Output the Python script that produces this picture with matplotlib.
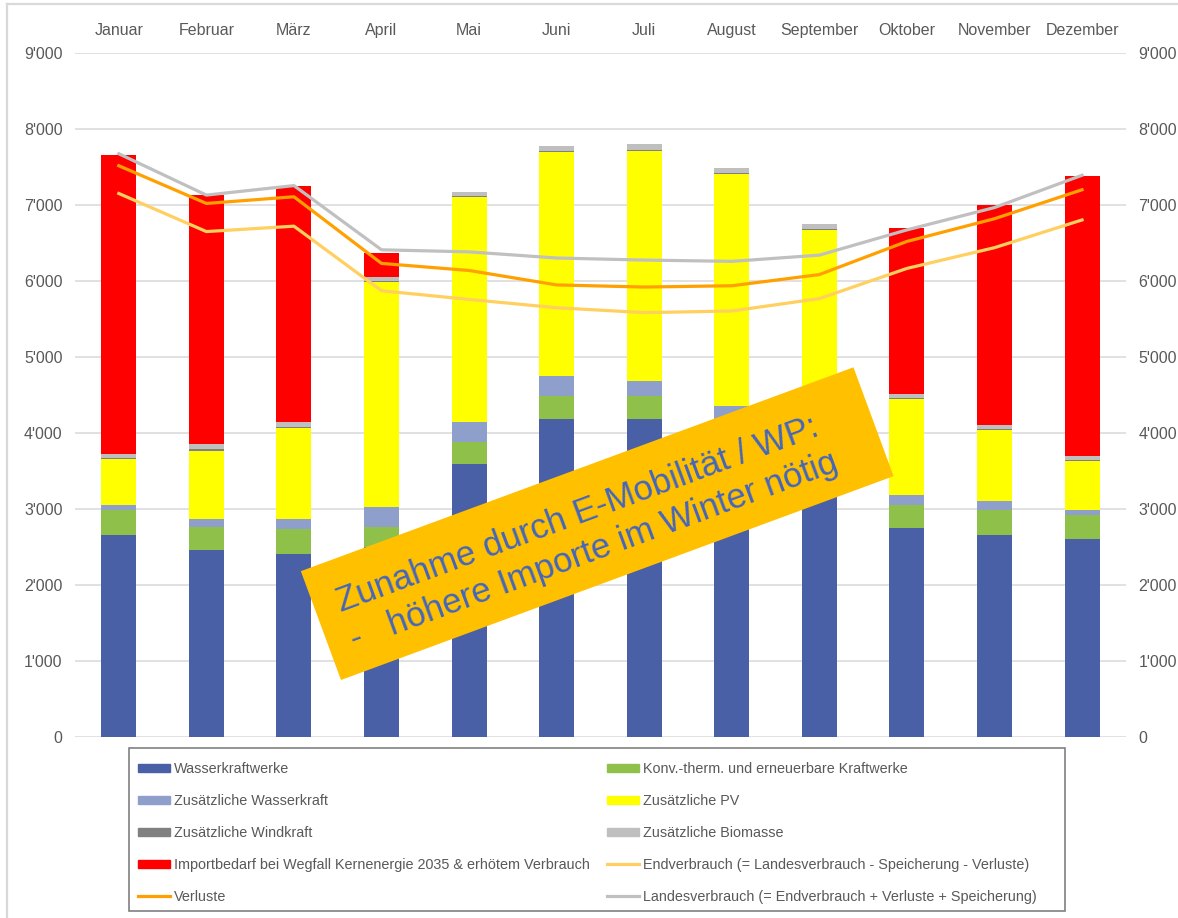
import matplotlib
matplotlib.use('Agg')
import matplotlib.pyplot as plt
import numpy as np
from matplotlib.patches import Patch, Rectangle
from matplotlib.lines import Line2D
from matplotlib.ticker import FuncFormatter, MultipleLocator

plt.rcParams['font.family'] = ['Liberation Sans', 'DejaVu Sans']

monate = ['Januar', 'Februar', 'März', 'April', 'Mai', 'Juni', 'Juli',
          'August', 'September', 'Oktober', 'November', 'Dezember']

# Stapel (GWh pro Monat), von unten nach oben
wasserkraft = [2663, 2462, 2413, 2500, 3589, 4188, 4188, 3900, 3500, 2745, 2663, 2609]
konv_therm = [327, 299, 327, 261, 289, 294, 305, 260, 280, 305, 327, 316]
zus_wasser = [65, 109, 130, 262, 272, 267, 191, 197, 170, 136, 109, 65]
zus_pv = [599, 899, 1199, 2963, 2958, 2942, 3028, 3045, 2722, 1264, 937, 643]
zus_wind = [15, 15, 15, 15, 15, 15, 15, 15, 15, 15, 15, 15]
zus_biomasse = [55, 70, 60, 50, 45, 65, 70, 70, 60, 50, 60, 55]
import_bedarf = [3933, 3274, 3105, 316, 0, 0, 0, 0, 0, 2184, 2887, 3676]

# Linien
endverbrauch = [7151, 6650, 6721, 5871, 5757, 5648, 5583, 5605, 5768, 6165, 6438, 6803]
verluste = [7516, 7020, 7108, 6231, 6138, 5948, 5920, 5937, 6084, 6520, 6819, 7200]
landesverbrauch = [7674, 7130, 7255, 6410, 6383, 6302, 6275, 6258, 6340, 6672, 6966, 7391]

stack_names = ['Wasserkraftwerke', 'Konv.-therm. und erneuerbare Kraftwerke',
               'Zusätzliche Wasserkraft', 'Zusätzliche PV', 'Zusätzliche Windkraft',
               'Zusätzliche Biomasse',
               'Importbedarf bei Wegfall Kernenergie 2035 & erhötem Verbrauch']
stack_colors = ['#4A60A6', '#8FC04A', '#8F9FCC', '#FFFF00', '#808080', '#BFBFBF', '#FF0000']
line_names = ['Endverbrauch (= Landesverbrauch - Speicherung - Verluste)', 'Verluste',
              'Landesverbrauch (= Endverbrauch + Verluste + Speicherung)']
line_colors = ['#FFD060', '#FFA000', '#C0C0C0']

txt_color = '#595959'
W, H = 1178, 918


def fmt(v, pos):
    return '{:,.0f}'.format(v).replace(',', "'")


def main():
    fig = plt.figure(figsize=(W / 100, H / 100), dpi=100)
    ax = fig.add_axes([0.0637, 0.1972, 0.892, 0.7451])
    x = np.arange(len(monate))

    stacks = [wasserkraft, konv_therm, zus_wasser, zus_pv, zus_wind, zus_biomasse, import_bedarf]
    bottom = np.zeros(len(monate))
    for vals, col in zip(stacks, stack_colors):
        ax.bar(x, vals, 0.4, bottom=bottom, color=col, zorder=2)
        bottom += np.array(vals)

    for vals, col in zip([endverbrauch, verluste, landesverbrauch], line_colors):
        ax.plot(x, vals, color=col, lw=2.3, zorder=3, solid_joinstyle='round')

    ax.set_xlim(-0.5, 11.5)
    ax.set_ylim(0, 9000)
    ax.yaxis.set_major_locator(MultipleLocator(1000))
    ax.yaxis.set_major_formatter(FuncFormatter(fmt))
    ax.grid(axis='y', color='#D9D9D9', lw=1.1, zorder=0)
    ax.set_axisbelow(True)
    for s in ax.spines.values():
        s.set_visible(False)
    ax.xaxis.tick_top()
    ax.set_xticks(x)
    ax.set_xticklabels(monate)
    ax.tick_params(axis='x', length=0, pad=11, labelsize=11.5, colors=txt_color)
    ax.tick_params(axis='y', length=0, pad=9, labelsize=11.5, colors=txt_color)

    ax2 = ax.twinx()
    ax2.set_ylim(0, 9000)
    ax2.yaxis.set_major_locator(MultipleLocator(1000))
    ax2.yaxis.set_major_formatter(FuncFormatter(fmt))
    ax2.tick_params(axis='y', length=0, pad=9, labelsize=11.5, colors=txt_color)
    for s in ax2.spines.values():
        s.set_visible(False)

    # Legende (Reihenfolge wie im Original, zeilenweise)
    h_stack = [Patch(color=c, label=n) for c, n in zip(stack_colors, stack_names)]
    h_line = [Line2D([], [], color=c, lw=2.3, label=n) for c, n in zip(line_colors, line_names)]
    col1 = [h_stack[0], h_stack[2], h_stack[4], h_stack[6], h_line[1]]
    col2 = [h_stack[1], h_stack[3], h_stack[5], h_line[0], h_line[2]]
    leg = fig.legend(handles=col1 + col2, ncol=2, loc='upper left',
                     bbox_to_anchor=(138 / W, 1 - 762 / H), bbox_transform=fig.transFigure,
                     fontsize=10.4, frameon=False,
                     handlelength=2.2, handleheight=0.55, handletextpad=0.3,
                     labelspacing=1.25, columnspacing=1.2, borderpad=0, borderaxespad=0)
    for t in leg.get_texts():
        t.set_color(txt_color)
    fig.add_artist(Rectangle((129 / W, 1 - 911 / H), 936 / W, 163 / H, transform=fig.transFigure,
                             facecolor='none', edgecolor='#808080', lw=1.2))

    # Rahmen links / oben
    fig.add_artist(Line2D([7 / W, 7 / W], [0, 1 - 4 / H], transform=fig.transFigure,
                          color='#D9D9D9', lw=1.6))
    fig.add_artist(Line2D([7 / W, 1], [1 - 4 / H, 1 - 4 / H], transform=fig.transFigure,
                          color='#D9D9D9', lw=1.6))

    # Hinweis-Kasten
    box = Rectangle((3.41, 2.38), 5.89, 1.16, angle=20.25, transform=fig.dpi_scale_trans,
                    facecolor='#FFC000', edgecolor='none', zorder=10)
    fig.add_artist(box)
    fig.text(587 / W, 1 - 532 / H,
             'Zunahme durch E-Mobilität / WP:\n-   höhere Importe im Winter nötig',
             rotation=20.25, rotation_mode='anchor', ha='center', va='center',
             multialignment='left', fontsize=25, color='#4466BB', linespacing=1.25, zorder=11)

    fig.savefig('out.png', dpi=100)


if __name__ == '__main__':
    main()
